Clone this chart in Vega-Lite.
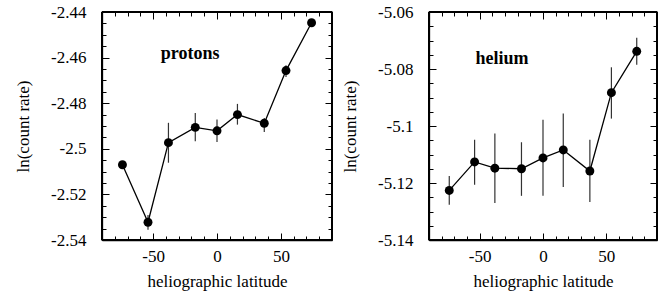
{
  "$schema": "https://vega.github.io/schema/vega-lite/v6.json",
  "padding": {"left": 13, "top": 2, "right": 5, "bottom": 2},
  "spacing": 6,
  "config": {"view": {"stroke": "black", "strokeWidth": 1.3}},
  "datasets": {
    "protons": [
      {"lat": -74, "rate": -2.5070, "lo": -2.5082, "hi": -2.5058},
      {"lat": -54, "rate": -2.5322, "lo": -2.5355, "hi": -2.5290},
      {"lat": -38, "rate": -2.4973, "lo": -2.5061, "hi": -2.4886},
      {"lat": -17, "rate": -2.4906, "lo": -2.4967, "hi": -2.4843},
      {"lat": 0, "rate": -2.4921, "lo": -2.4970, "hi": -2.4871},
      {"lat": 16, "rate": -2.4850, "lo": -2.4894, "hi": -2.4803},
      {"lat": 37, "rate": -2.4888, "lo": -2.4926, "hi": -2.4865},
      {"lat": 54, "rate": -2.4657, "lo": -2.4685, "hi": -2.4634},
      {"lat": 74, "rate": -2.4447, "lo": -2.4457, "hi": -2.4437}
    ],
    "helium": [
      {"lat": -74, "rate": -5.1226, "lo": -5.1276, "hi": -5.1175},
      {"lat": -54, "rate": -5.1126, "lo": -5.1206, "hi": -5.1048},
      {"lat": -38, "rate": -5.1148, "lo": -5.1270, "hi": -5.1026},
      {"lat": -17, "rate": -5.1150, "lo": -5.1245, "hi": -5.1057},
      {"lat": 0, "rate": -5.1112, "lo": -5.1245, "hi": -5.0978},
      {"lat": 16, "rate": -5.1084, "lo": -5.1214, "hi": -5.0956},
      {"lat": 37, "rate": -5.1158, "lo": -5.1267, "hi": -5.1048},
      {"lat": 54, "rate": -5.0883, "lo": -5.0974, "hi": -5.0794},
      {"lat": 74, "rate": -5.0738, "lo": -5.0785, "hi": -5.0690}
    ]
  },
  "hconcat": [
    {
      "width": 230,
      "height": 228,
      "data": {"name": "protons"},
      "layer": [
        {
          "mark": {"type": "rule", "color": "#333333", "strokeWidth": 1.2},
          "encoding": {
            "x": {"field": "lat", "type": "quantitative", "scale": {"domain": [-90, 90], "nice": false, "zero": false},
              "axis": {"orient": "bottom", "title": "heliographic latitude", "values": [-50, 0, 50],
                "grid": true, "gridColor": "black", "gridOpacity": 1, "gridWidth": 1, "gridDash": [7, 214],
                "domain": true, "domainColor": "black", "domainWidth": 1.3, "ticks": true, "tickSize": 0,
                "labelFont": "Liberation Serif", "labelFontSize": 17, "labelColor": "black", "titleFont": "Liberation Serif", "titleFontSize": 17, "titleFontWeight": "normal", "titleColor": "black",
                "labelExpr": "'' + datum.value", "labelPadding": 8, "titlePadding": 9}},
            "y": {"field": "lo", "type": "quantitative", "scale": {"domain": [-2.54, -2.44], "nice": false, "zero": false},
              "axis": {"orient": "left", "title": "ln(count rate)", "values": [-2.54, -2.52, -2.5, -2.48, -2.46, -2.44],
                "grid": true, "gridColor": "black", "gridOpacity": 1, "gridWidth": 1, "gridDash": [7, 216],
                "domain": true, "domainColor": "black", "domainWidth": 1.3, "ticks": true, "tickSize": 0,
                "labelFont": "Liberation Serif", "labelFontSize": 17, "labelColor": "black", "titleFont": "Liberation Serif", "titleFontSize": 17, "titleFontWeight": "normal", "titleColor": "black",
                "labelExpr": "'' + datum.value", "labelPadding": 16, "titlePadding": 18}},
            "y2": {"field": "hi"}
          }
        },
        {
          "mark": {"type": "line", "color": "black", "strokeWidth": 1.3},
          "encoding": {
            "x": {"field": "lat", "type": "quantitative", "axis": null},
            "y": {"field": "rate", "type": "quantitative", "axis": null}
          }
        },
        {
          "mark": {"type": "point", "filled": true, "size": 80, "color": "black", "opacity": 1},
          "encoding": {
            "x": {"field": "lat", "type": "quantitative",
              "axis": {"orient": "bottom", "title": null, "labels": false, "ticks": false, "domain": false, "values": [-80,-70,-60,-40,-30,-20,-10,10,20,30,40,60,70,80],
                "grid": true, "gridColor": "black", "gridOpacity": 1, "gridWidth": 1, "gridDash": [4, 220]}},
            "y": {"field": "rate", "type": "quantitative",
              "axis": {"orient": "left", "title": null, "labels": false, "ticks": false, "domain": false, "values": [-2.535,-2.53,-2.525,-2.515,-2.51,-2.505,-2.495,-2.49,-2.485,-2.475,-2.47,-2.465,-2.455,-2.45,-2.445],
                "grid": true, "gridColor": "black", "gridOpacity": 1, "gridWidth": 1, "gridDash": [4, 222]}}
          }
        },
        {
          "mark": {"type": "rule", "color": "black", "strokeWidth": 1.3},
          "encoding": {
            "x": {"datum": -90, "type": "quantitative", "axis": null},
            "y": {"datum": -2.54, "type": "quantitative", "axis": null},
            "y2": {"datum": -2.44}
          }
        },
        {
          "mark": {"type": "rule", "color": "black", "strokeWidth": 1.3},
          "encoding": {
            "x": {"datum": 90, "type": "quantitative", "axis": null},
            "y": {"datum": -2.54, "type": "quantitative", "axis": null},
            "y2": {"datum": -2.44}
          }
        },
        {
          "mark": {"type": "rule", "color": "black", "strokeWidth": 1.3},
          "encoding": {
            "x": {"datum": -90, "type": "quantitative", "axis": null},
            "x2": {"datum": 90},
            "y": {"datum": -2.54, "type": "quantitative", "axis": null}
          }
        },
        {
          "mark": {"type": "rule", "color": "black", "strokeWidth": 1.3},
          "encoding": {
            "x": {"datum": -90, "type": "quantitative", "axis": null},
            "x2": {"datum": 90},
            "y": {"datum": -2.44, "type": "quantitative", "axis": null}
          }
        },
        {
          "data": {"values": [{"label": "protons"}]},
          "mark": {"type": "text", "font": "Liberation Serif", "fontWeight": "bold", "fontSize": 18, "color": "black"},
          "encoding": {
            "x": {"datum": -21, "type": "quantitative", "axis": null},
            "y": {"datum": -2.4584, "type": "quantitative", "axis": null},
            "text": {"field": "label"}
          }
        }
      ],
      "resolve": {"axis": {"x": "independent", "y": "independent"}}
    },
    {
      "width": 228,
      "height": 228,
      "data": {"name": "helium"},
      "layer": [
        {
          "mark": {"type": "rule", "color": "#333333", "strokeWidth": 1.2},
          "encoding": {
            "x": {"field": "lat", "type": "quantitative", "scale": {"domain": [-90, 90], "nice": false, "zero": false},
              "axis": {"orient": "bottom", "title": "heliographic latitude", "values": [-50, 0, 50],
                "grid": true, "gridColor": "black", "gridOpacity": 1, "gridWidth": 1, "gridDash": [7, 214],
                "domain": true, "domainColor": "black", "domainWidth": 1.3, "ticks": true, "tickSize": 0,
                "labelFont": "Liberation Serif", "labelFontSize": 17, "labelColor": "black", "titleFont": "Liberation Serif", "titleFontSize": 17, "titleFontWeight": "normal", "titleColor": "black",
                "labelExpr": "'' + datum.value", "labelPadding": 8, "titlePadding": 9}},
            "y": {"field": "lo", "type": "quantitative", "scale": {"domain": [-5.14, -5.06], "nice": false, "zero": false},
              "axis": {"orient": "left", "title": "ln(count rate)", "values": [-5.14, -5.12, -5.1, -5.08, -5.06],
                "grid": true, "gridColor": "black", "gridOpacity": 1, "gridWidth": 1, "gridDash": [7, 214],
                "domain": true, "domainColor": "black", "domainWidth": 1.3, "ticks": true, "tickSize": 0,
                "labelFont": "Liberation Serif", "labelFontSize": 17, "labelColor": "black", "titleFont": "Liberation Serif", "titleFontSize": 17, "titleFontWeight": "normal", "titleColor": "black",
                "labelExpr": "'' + datum.value", "labelPadding": 16, "titlePadding": 18}},
            "y2": {"field": "hi"}
          }
        },
        {
          "mark": {"type": "line", "color": "black", "strokeWidth": 1.3},
          "encoding": {
            "x": {"field": "lat", "type": "quantitative", "axis": null},
            "y": {"field": "rate", "type": "quantitative", "axis": null}
          }
        },
        {
          "mark": {"type": "point", "filled": true, "size": 80, "color": "black", "opacity": 1},
          "encoding": {
            "x": {"field": "lat", "type": "quantitative",
              "axis": {"orient": "bottom", "title": null, "labels": false, "ticks": false, "domain": false, "values": [-80,-70,-60,-40,-30,-20,-10,10,20,30,40,60,70,80],
                "grid": true, "gridColor": "black", "gridOpacity": 1, "gridWidth": 1, "gridDash": [4, 220]}},
            "y": {"field": "rate", "type": "quantitative",
              "axis": {"orient": "left", "title": null, "labels": false, "ticks": false, "domain": false, "values": [-5.135,-5.13,-5.125,-5.115,-5.11,-5.105,-5.095,-5.09,-5.085,-5.075,-5.07,-5.065],
                "grid": true, "gridColor": "black", "gridOpacity": 1, "gridWidth": 1, "gridDash": [4, 220]}}
          }
        },
        {
          "mark": {"type": "rule", "color": "black", "strokeWidth": 1.3},
          "encoding": {
            "x": {"datum": -90, "type": "quantitative", "axis": null},
            "y": {"datum": -5.14, "type": "quantitative", "axis": null},
            "y2": {"datum": -5.06}
          }
        },
        {
          "mark": {"type": "rule", "color": "black", "strokeWidth": 1.3},
          "encoding": {
            "x": {"datum": 90, "type": "quantitative", "axis": null},
            "y": {"datum": -5.14, "type": "quantitative", "axis": null},
            "y2": {"datum": -5.06}
          }
        },
        {
          "mark": {"type": "rule", "color": "black", "strokeWidth": 1.3},
          "encoding": {
            "x": {"datum": -90, "type": "quantitative", "axis": null},
            "x2": {"datum": 90},
            "y": {"datum": -5.14, "type": "quantitative", "axis": null}
          }
        },
        {
          "mark": {"type": "rule", "color": "black", "strokeWidth": 1.3},
          "encoding": {
            "x": {"datum": -90, "type": "quantitative", "axis": null},
            "x2": {"datum": 90},
            "y": {"datum": -5.06, "type": "quantitative", "axis": null}
          }
        },
        {
          "data": {"values": [{"label": "helium"}]},
          "mark": {"type": "text", "font": "Liberation Serif", "fontWeight": "bold", "fontSize": 18, "color": "black"},
          "encoding": {
            "x": {"datum": -32.4, "type": "quantitative", "axis": null},
            "y": {"datum": -5.0766, "type": "quantitative", "axis": null},
            "text": {"field": "label"}
          }
        }
      ],
      "resolve": {"axis": {"x": "independent", "y": "independent"}}
    }
  ]
}
